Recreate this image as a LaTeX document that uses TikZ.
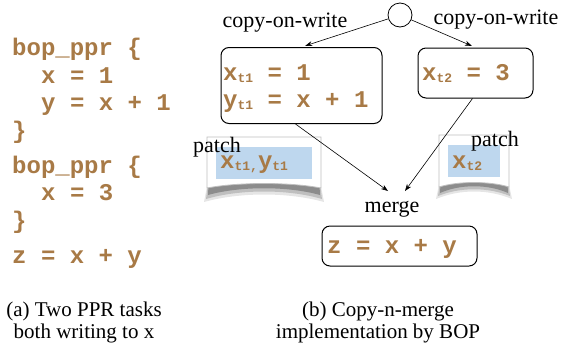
\documentclass[tikz,border=0pt]{standalone}
\usepackage{fontspec}
\setmainfont{Liberation Serif}
\newfontfamily\codefont{Liberation Mono}
\usetikzlibrary{arrows.meta}
\definecolor{codebrown}{RGB}{168,122,70}
\definecolor{patchblue}{RGB}{190,215,238}
\newcommand\tsub[1]{\raisebox{-2pt}{\fontsize{13}{13}\selectfont #1}}

\begin{document}
\begin{tikzpicture}[x=1pt,y=-1pt,
    code/.style={anchor=base west,inner sep=0pt,text=codebrown,
      font={\codefont\bfseries\fontsize{24}{24}\selectfont}},
    lbl/.style={anchor=base,inner sep=0pt,font={\fontsize{22}{22}\selectfont}},
    caption/.style={anchor=base,inner sep=0pt,align=center,
      font={\fontsize{21}{22}\selectfont}},
    cbox/.style={draw,rounded corners=8pt,line width=1pt},
    paper/.style={fill=white,draw=black!25,line width=0.8pt},
    arr/.style={-{Stealth[length=7pt,width=5pt]},line width=0.6pt}]
  \useasboundingbox (0,0) rectangle (561,346);

  % (a) the two tasks
  \node[code] (a1) at (12,55) {bop\_ppr \{};
  \node[code] (a2) at (41,83) {x = 1};
  \node[code] (a3) at (41,110) {y = x + 1};
  \node[code] (a4) at (12,138) {\}};
  \node[code] (a5) at (12,173) {bop\_ppr \{};
  \node[code] (a6) at (41,200) {x = 3};
  \node[code] (a7) at (12,228) {\}};
  \node[code] (a8) at (12,263) {z = x + y};

  % (b) patches
  \fill[black!10] (209,176) -- (204,202) .. controls (240,192) and (288,192) .. (324,202) -- (319,176) -- cycle;
  \fill[black!25] (209,176) -- (206,199) .. controls (240,189) and (288,189) .. (322,199) -- (319,176) -- cycle;
  \fill[black!45] (209,176) -- (208,195) .. controls (240,186) and (288,186) .. (320,195) -- (319,176) -- cycle;
  \filldraw[paper] (207,137) -- (321,137) -- (321,188) .. controls (290,182) and (238,182) .. (207,188) -- cycle;
  \fill[patchblue] (216,147) rectangle (312,179);

  \fill[black!10] (441,175) -- (436,199) .. controls (460,189) and (488,189) .. (512,199) -- (507,175) -- cycle;
  \fill[black!25] (441,175) -- (438,196) .. controls (460,187) and (488,187) .. (510,196) -- (507,175) -- cycle;
  \fill[black!45] (441,175) -- (440,193) .. controls (460,184) and (488,184) .. (508,193) -- (507,175) -- cycle;
  \filldraw[paper] (439,135) -- (509,135) -- (509,187) .. controls (490,181) and (458,181) .. (439,187) -- cycle;
  \fill[patchblue] (448,145) rectangle (500,177);

  % (b) copies and merge
  \node[draw,circle,minimum size=24pt,inner sep=0pt,line width=0.8pt] (fork) at (400,15) {};
  \node[cbox,minimum width=161pt,minimum height=76pt] (box1) at (301.5,85.5) {};
  \node[cbox,minimum width=115pt,minimum height=50pt] (box2) at (475.5,73) {};
  \node[cbox,minimum width=155pt,minimum height=40pt] (box3) at (399.5,246) {};

  \node[lbl] (cow1) at (285,27) {copy-on-write};
  \node[lbl] (cow2) at (496,24) {copy-on-write};
  \node[lbl] (patch1) at (217,152) {patch};
  \node[lbl] (patch2) at (495,146) {patch};
  \node[lbl] (merge) at (392,212) {merge};

  \node[code] (t1x) at (223,80) {x\tsub{t1} = 1};
  \node[code] (t1y) at (223,107) {y\tsub{t1} = x + 1};
  \node[code] (t2x) at (422,80) {x\tsub{t2} = 3};
  \node[code] (p1) at (220,168) {x\tsub{t1,}y\tsub{t1}};
  \node[code] (p2) at (452,168) {x\tsub{t2}};
  \node[code] (z) at (327,253) {z = x + y};

  \coordinate (in1) at (388,191);
  \coordinate (in2) at (405,191);
  \draw[arr,shorten >=4pt] (fork) -- (box1.north);
  \draw[arr,shorten >=4pt] (fork) -- (box2.north);
  \draw[arr] ([xshift=-6pt]box1.south) -- (in1);
  \draw[arr] ([xshift=-3pt]box2.south) -- (in2);

  % captions
  \node[caption] (capa) at (84,338) {(a) Two PPR tasks\\both writing to x};
  \node[caption] (capb) at (378,338) {(b) Copy-n-merge\\implementation by BOP};
\end{tikzpicture}
\end{document}
